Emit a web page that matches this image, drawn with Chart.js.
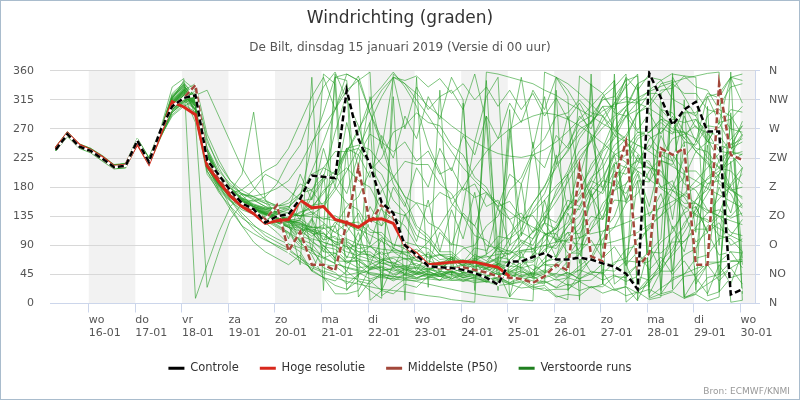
<!DOCTYPE html>
<html>
<head>
<meta charset="utf-8">
<script src="https://cdn.jsdelivr.net/npm/chart.js@4.4.1/dist/chart.umd.min.js"></script>
<style>
  body { margin: 0; background: #fff; }
  #wrap { position: relative; width: 800px; height: 400px; box-sizing: border-box; border: 1px solid #a9bccd; }
  #bron { position: absolute; right: 9px; bottom: 3px; font: 9px "DejaVu Sans", sans-serif; color: #999; }
</style>
</head>
<body>
<div id="wrap">
  <canvas id="wind" width="798" height="398"></canvas>
  <div id="bron">Bron: ECMWF/KNMI</div>
</div>
<script>
// tijdstappen (uren vanaf 15-01 00:00)
const uren = [7, 13, 19, 25, 31, 37, 43, 49, 55, 61, 67, 73, 79, 85, 91, 97, 103, 109, 115, 121,
  127, 133, 139, 145, 151, 157, 163, 169, 175, 181, 187, 193, 199, 205, 211, 217, 223, 229, 235, 241,
  247, 253, 259, 265, 271, 277, 283, 289, 295, 301, 307, 313, 319, 325, 331, 337, 343, 349, 355, 361];

// x-as: middernacht van elke dag
const tickUren = [24, 48, 72, 96, 120, 144, 168, 192, 216, 240, 264, 288, 312, 336, 360];
const dagNamen = ['wo', 'do', 'vr', 'za', 'zo', 'ma', 'di', 'wo', 'do', 'vr', 'za', 'zo', 'ma', 'di', 'wo'];
const datums = ['16-01', '17-01', '18-01', '19-01', '20-01', '21-01', '22-01', '23-01', '24-01', '25-01',
  '26-01', '27-01', '28-01', '29-01', '30-01'];
const grijzeDagen = [24, 72, 120, 168, 216, 264, 312, 360];
const windLabels = ['N', 'NO', 'O', 'ZO', 'Z', 'ZW', 'W', 'NW', 'N'];

const controle = [238, 262, 243, 236, 224, 211, 213, 252, 219, 268,
  305, 318, 322, 222, 199, 175, 155, 146, 125, 135,
  138, 162, 198, 196, 194, 330, 255, 215, 156, 140,
  90, 75, 58, 56, 55, 52, 47, 40, 29, 65,
  65, 72, 78, 68, 68, 71, 68, 62, 57, 46,
  22, 356, 318, 276, 300, 312, 266, 266, 14, 22];

const hogeResolutie = [240, 263, 245, 237, 226, 212, 214, 248, 217, 262,
  312, 304, 292, 213, 189, 166, 150, 139, 124, 128,
  130, 160, 148, 150, 130, 125, 118, 130, 131, 124,
  90, 77, 60, 62, 64, 65, 64, 60, 56, 42];

const middelste = [239, 262, 243, 236, 224, 211, 213, 250, 218, 265,
  305, 318, 338, 222, 195, 172, 153, 143, 130, 152,
  81, 111, 60, 60, 51, 125, 210, 125, 153, 134,
  88, 73, 58, 55, 53, 56, 52, 48, 42, 40,
  38, 32, 42, 60, 51, 210, 73, 65, 191, 250,
  55, 78, 240, 230, 240, 60, 60, 340, 230, 222];

const verstoordeRuns = [
  [239, 261, 243, 236, 224, 211, 212, 249, 219, 262, 305, 318, 300, 215, 185, 165, 150, 140, 132, 125,
   118, 100, 92, 70, 78, 62, 75, 88, 102, 92, 85, 66, 62, 52, 55, 48, 50, 42, 45, 38,
   40, 32, 35, 25, 40, 52, 68, 100, 118, 155, 170, 205, 225, 255, 262, 275, 250, 245, 238, 262],
  [236, 258, 240, 233, 220, 208, 210, 245, 214, 256, 295, 312, 330, 255, 210, 180, 162, 150, 142, 136,
   140, 158, 162, 190, 205, 240, 245, 238, 215, 198, 165, 155, 125, 115, 92, 88, 72, 74, 62, 64,
   55, 60, 48, 62, 72, 100, 115, 155, 175, 210, 220, 245, 230, 220, 185, 175, 145, 135, 110, 105],
  [242, 265, 245, 239, 228, 214, 216, 255, 225, 268, 318, 340, 290, 200, 175, 158, 145, 138, 130, 122,
   110, 92, 85, 55, 48, 30, 45, 52, 65, 55, 58, 48, 55, 45, 48, 40, 44, 35, 40, 30,
   35, 25, 28, 12, 6, 352, 338, 325, 295, 290, 265, 260, 235, 230, 205, 205, 185, 190, 175, 180],
  [240, 263, 244, 237, 225, 212, 213, 250, 220, 264, 300, 315, 325, 240, 200, 178, 160, 148, 138, 128,
   122, 130, 165, 195, 265, 325, 352, 295, 245, 185, 155, 115, 100, 75, 72, 58, 62, 52, 55, 46,
   50, 42, 48, 46, 65, 76, 115, 135, 175, 185, 210, 210, 205, 175, 165, 135, 130, 105, 100, 80],
  [237, 259, 241, 234, 222, 209, 210, 247, 216, 258, 290, 305, 315, 225, 190, 168, 155, 145, 138, 132,
   126, 118, 95, 85, 66, 65, 55, 58, 50, 55, 46, 50, 42, 46, 38, 48, 46, 64, 70, 100,
   115, 155, 180, 225, 245, 280, 290, 315, 320, 345, 352, 8, 15, 40, 45, 70, 75, 100, 105, 130],
  [243, 266, 247, 240, 229, 215, 217, 256, 226, 270, 335, 348, 8, 60, 110, 150, 170, 165, 155, 140,
   128, 105, 98, 80, 78, 64, 66, 55, 58, 50, 55, 46, 50, 42, 45, 36, 40, 33, 37, 30,
   33, 22, 24, 10, 14, 12, 26, 26, 42, 40, 60, 65, 95, 110, 145, 160, 195, 210, 245, 255],
  [238, 262, 243, 236, 223, 211, 212, 251, 221, 263, 312, 328, 312, 220, 190, 170, 158, 150, 145, 142,
   148, 170, 176, 195, 195, 210, 190, 180, 145, 130, 95, 90, 70, 75, 68, 85, 90, 120, 135, 175,
   195, 235, 255, 290, 295, 315, 295, 290, 260, 250, 220, 210, 180, 175, 155, 155, 140, 145, 132, 140],
  [241, 263, 245, 238, 226, 213, 215, 253, 223, 266, 320, 335, 305, 205, 178, 160, 148, 138, 128, 118,
   108, 88, 82, 60, 58, 44, 48, 38, 44, 35, 44, 38, 48, 44, 54, 48, 58, 54, 66, 64,
   80, 80, 105, 115, 150, 170, 215, 240, 285, 305, 340, 350, 15, 20, 42, 45, 64, 64, 80, 78],
  [239, 262, 244, 237, 225, 212, 214, 250, 219, 263, 306, 322, 280, 25, 80, 130, 155, 160, 150, 140,
   128, 125, 112, 108, 95, 95, 85, 88, 76, 80, 68, 72, 60, 64, 52, 58, 48, 54, 44, 50,
   42, 48, 40, 46, 42, 58, 72, 110, 135, 185, 215, 255, 265, 285, 280, 285, 265, 260, 235, 230],
  [240, 264, 245, 238, 226, 213, 214, 248, 218, 260, 298, 312, 320, 235, 195, 172, 162, 158, 165, 185,
   220, 245, 295, 335, 358, 315, 275, 215, 180, 135, 120, 90, 85, 68, 70, 58, 64, 54, 60, 50,
   56, 46, 52, 42, 48, 38, 50, 46, 64, 70, 100, 115, 155, 180, 225, 250, 290, 305, 335, 340],
  [237, 260, 242, 235, 223, 210, 211, 246, 217, 259, 296, 310, 318, 230, 195, 173, 160, 150, 143, 138,
   130, 128, 115, 110, 92, 88, 68, 65, 52, 53, 44, 46, 40, 42, 36, 38, 32, 34, 28, 30,
   24, 26, 20, 22, 22, 35, 36, 52, 50, 66, 64, 80, 78, 95, 96, 115, 115, 135, 135, 155],
  [242, 265, 246, 239, 227, 214, 216, 254, 224, 267, 325, 342, 318, 210, 182, 164, 152, 145, 140, 136,
   130, 142, 146, 175, 190, 235, 265, 315, 335, 358, 335, 305, 245, 205, 155, 135, 105, 98, 80, 82,
   70, 100, 125, 175, 205, 255, 280, 320, 335, 355, 20, 30, 65, 85, 125, 145, 185, 200, 230, 235],
  [238, 261, 242, 236, 224, 211, 213, 252, 221, 264, 310, 326, 298, 218, 188, 168, 156, 148, 140, 134,
   128, 115, 110, 88, 84, 66, 66, 52, 56, 46, 52, 44, 50, 42, 50, 42, 48, 42, 48, 40,
   48, 46, 64, 70, 100, 115, 155, 175, 215, 230, 260, 265, 285, 280, 295, 295, 320, 325, 350, 355],
  [240, 262, 243, 237, 225, 212, 213, 249, 219, 263, 304, 318, 312, 228, 196, 174, 200, 296, 160, 137,
   138, 136, 152, 155, 180, 155, 145, 115, 105, 80, 76, 58, 58, 46, 50, 40, 46, 36, 42, 32,
   38, 28, 34, 24, 30, 20, 26, 16, 22, 12, 18, 6, 10, 355, 352, 335, 330, 300, 290, 260],
  [241, 264, 245, 238, 226, 213, 215, 251, 222, 265, 315, 330, 320, 232, 198, 175, 155, 140, 125, 110,
   92, 80, 50, 40, 15, 15, 20, 55, 65, 85, 78, 84, 72, 76, 64, 68, 56, 62, 52, 58,
   56, 74, 80, 110, 125, 165, 190, 235, 255, 290, 300, 325, 325, 340, 325, 325, 300, 295, 270, 265],
  [236, 259, 241, 234, 221, 209, 210, 247, 217, 260, 300, 316, 322, 330, 290, 250, 210, 180, 160, 150,
   145, 135, 142, 130, 136, 124, 126, 110, 110, 90, 90, 72, 76, 64, 68, 60, 68, 60, 72, 68,
   82, 84, 106, 116, 144, 160, 195, 210, 245, 260, 295, 310, 340, 345, 10, 15, 40, 45, 65, 65],
  [239, 263, 244, 237, 224, 211, 213, 250, 220, 262, 308, 324, 315, 222, 190, 168, 154, 144, 136, 130,
   120, 122, 108, 108, 92, 92, 76, 76, 62, 64, 52, 56, 44, 48, 38, 44, 40, 56, 60, 90,
   105, 145, 170, 215, 235, 270, 280, 305, 305, 320, 312, 320, 300, 295, 265, 255, 225, 210, 175, 165],
  [240, 262, 245, 238, 225, 212, 214, 251, 221, 264, 310, 330, 300, 210, 184, 166, 152, 142, 134, 126,
   125, 165, 245, 295, 350, 355, 345, 295, 255, 195, 165, 120, 105, 80, 80, 64, 66, 54, 60, 48,
   54, 44, 50, 40, 48, 38, 46, 36, 44, 34, 42, 36, 50, 50, 75, 85, 120, 140, 185, 210],
  [238, 261, 243, 236, 224, 211, 212, 248, 218, 261, 302, 320, 310, 225, 193, 171, 158, 148, 140, 133,
   132, 116, 114, 94, 90, 72, 70, 54, 56, 44, 49, 40, 45, 36, 43, 34, 42, 33, 41, 32,
   44, 44, 64, 74, 104, 124, 164, 190, 235, 255, 295, 305, 330, 333, 352, 350, 12, 18, 40, 46],
  [241, 264, 246, 239, 227, 214, 215, 253, 223, 266, 318, 336, 316, 226, 194, 172, 158, 150, 146, 150,
   155, 170, 200, 210, 235, 235, 240, 215, 200, 160, 140, 105, 96, 76, 76, 62, 66, 56, 62, 52,
   64, 64, 84, 90, 120, 135, 175, 195, 230, 240, 265, 265, 280, 265, 265, 240, 235, 210, 205, 185],
  [239, 262, 244, 237, 225, 212, 213, 250, 220, 263, 306, 322, 308, 220, 188, 167, 154, 146, 140, 136,
   128, 132, 118, 118, 100, 98, 80, 80, 66, 70, 58, 62, 52, 58, 48, 54, 44, 50, 40, 46,
   36, 42, 32, 38, 28, 34, 24, 30, 20, 26, 16, 22, 12, 18, 8, 14, 4, 10, 358, 5],
  [237, 260, 242, 235, 223, 210, 212, 249, 218, 261, 300, 314, 322, 236, 200, 177, 163, 153, 146, 140,
   135, 95, 75, 40, 35, 50, 95, 125, 175, 195, 220, 215, 215, 185, 170, 135, 120, 90, 85, 65,
   66, 52, 60, 55, 75, 85, 125, 145, 190, 215, 255, 265, 285, 270, 265, 235, 220, 185, 170, 135],
  [242, 265, 246, 239, 227, 214, 216, 254, 224, 267, 322, 338, 310, 212, 182, 163, 150, 140, 132, 125,
   118, 118, 104, 116, 120, 150, 165, 205, 225, 265, 275, 295, 280, 275, 245, 230, 195, 180, 145, 130,
   95, 85, 60, 60, 45, 52, 45, 62, 60, 84, 90, 120, 135, 175, 195, 235, 250, 280, 285, 305],
  [238, 262, 243, 236, 224, 211, 213, 251, 221, 264, 309, 327, 304, 218, 186, 166, 153, 144, 137, 131,
   126, 128, 112, 122, 110, 124, 112, 130, 120, 142, 136, 156, 150, 172, 162, 180, 164, 172, 150, 158,
   132, 136, 108, 108, 78, 78, 48, 48, 22, 26, 4, 350, 346, 316, 306, 272, 264, 236, 232, 210],
  [240, 263, 245, 237, 226, 212, 214, 252, 222, 265, 312, 330, 318, 225, 192, 170, 157, 147, 139, 132,
   125, 60, 350, 20, 355, 90, 60, 45, 40, 38, 36, 35, 40, 50, 45, 40, 38, 36, 60, 300,
   40, 35, 30, 330, 20, 45, 70, 60, 300, 340, 20, 40, 300, 280, 250, 30, 60, 200, 240, 250],
  [239, 261, 243, 236, 224, 211, 212, 249, 219, 262, 304, 320, 312, 224, 192, 171, 158, 149, 141, 135,
   129, 124, 118, 355, 340, 20, 45, 60, 68, 72, 70, 66, 62, 58, 55, 52, 50, 48, 46, 44,
   42, 40, 38, 350, 330, 300, 260, 220, 30, 45, 60, 80, 100, 350, 320, 290, 255, 220, 180, 150],
  [241, 264, 244, 238, 226, 213, 215, 252, 222, 266, 316, 333, 306, 216, 186, 166, 154, 146, 140, 134,
   128, 122, 118, 116, 350, 345, 120, 90, 70, 60, 52, 48, 45, 42, 40, 150, 250, 320, 350, 10,
   30, 50, 70, 95, 120, 150, 180, 220, 260, 300, 340, 15, 50, 80, 110, 140, 170, 200, 230, 260],
  [238, 261, 244, 236, 223, 210, 213, 250, 221, 262, 302, 322, 315, 228, 200, 182, 170, 162, 155, 150,
   160, 185, 175, 210, 200, 240, 230, 262, 250, 235, 250, 220, 236, 200, 210, 175, 185, 150, 160, 130,
   140, 110, 125, 95, 110, 80, 98, 70, 88, 60, 80, 52, 72, 45, 66, 40, 60, 35, 55, 30],
  [241, 263, 246, 238, 227, 213, 214, 253, 224, 266, 316, 345, 330, 250, 215, 190, 175, 165, 158, 152,
   150, 165, 205, 250, 300, 355, 345, 5, 20, 15, 30, 25, 42, 36, 55, 48, 70, 62, 88, 80,
   110, 100, 135, 125, 160, 150, 190, 180, 218, 210, 245, 238, 272, 262, 300, 290, 325, 318, 350, 345],
  [237, 259, 242, 235, 222, 209, 211, 247, 216, 258, 292, 308, 296, 210, 180, 160, 140, 122, 105, 95,
   85, 70, 52, 40, 28, 22, 35, 30, 48, 40, 55, 46, 62, 52, 68, 58, 76, 66, 85, 75,
   98, 90, 125, 115, 150, 145, 180, 170, 205, 200, 225, 220, 180, 190, 140, 150, 110, 125, 90, 100],
  [240, 263, 245, 237, 226, 212, 214, 251, 222, 264, 308, 325, 305, 215, 175, 145, 120, 108, 98, 90,
   82, 70, 58, 50, 45, 40, 38, 35, 42, 38, 45, 40, 46, 42, 50, 44, 55, 48, 62, 56,
   72, 66, 90, 85, 110, 108, 135, 130, 160, 158, 190, 188, 220, 215, 250, 245, 275, 272, 300, 296],
  [239, 262, 243, 236, 224, 211, 213, 250, 220, 263, 310, 328, 318, 228, 196, 178, 168, 166, 170, 178,
   190, 215, 250, 275, 300, 330, 345, 358, 12, 25, 38, 46, 52, 58, 62, 65, 70, 72, 76, 78,
   82, 85, 90, 95, 98, 102, 108, 112, 118, 125, 132, 140, 148, 158, 168, 180, 192, 205, 218, 232],
  [242, 264, 247, 240, 228, 214, 216, 255, 225, 268, 322, 340, 320, 225, 190, 160, 135, 115, 100, 88,
   78, 65, 55, 48, 40, 34, 30, 26, 22, 20, 18, 15, 12, 10, 6, 4, 2, 358, 355, 350,
   345, 340, 330, 322, 310, 300, 290, 278, 268, 255, 245, 235, 222, 212, 200, 190, 178, 168, 158, 148],
  [238, 260, 242, 235, 223, 210, 212, 248, 218, 260, 298, 314, 300, 218, 188, 170, 160, 176, 200, 190,
   175, 160, 140, 125, 110, 100, 92, 88, 84, 82, 80, 78, 95, 120, 150, 180, 210, 235, 255, 270,
   282, 290, 295, 292, 285, 275, 262, 248, 232, 218, 205, 192, 178, 165, 150, 138, 126, 116, 105, 96],
  [240, 262, 245, 237, 225, 212, 214, 251, 221, 264, 306, 330, 340, 262, 222, 190, 168, 150, 138, 126,
   118, 112, 100, 95, 88, 80, 74, 68, 62, 58, 56, 54, 52, 50, 48, 46, 44, 42, 52, 68,
   88, 112, 140, 168, 198, 226, 250, 272, 290, 305, 318, 328, 336, 342, 348, 352, 356, 358, 2, 5],
  [241, 264, 245, 239, 227, 213, 215, 252, 223, 266, 314, 332, 310, 220, 188, 168, 152, 140, 130, 120,
   110, 98, 85, 72, 62, 55, 50, 46, 44, 42, 40, 38, 38, 36, 36, 35, 35, 34, 40, 48,
   60, 76, 96, 120, 148, 178, 208, 238, 266, 290, 312, 330, 345, 356, 8, 18, 30, 42, 55, 66],
  [237, 260, 242, 234, 222, 209, 211, 246, 216, 259, 296, 312, 325, 240, 205, 185, 170, 160, 150, 145,
   140, 135, 138, 150, 175, 205, 240, 280, 320, 350, 340, 315, 290, 262, 235, 210, 190, 172, 156, 142,
   128, 118, 108, 100, 95, 92, 90, 92, 96, 102, 110, 122, 136, 152, 170, 190, 210, 232, 254, 275],
  [239, 262, 244, 237, 225, 212, 213, 250, 220, 262, 306, 322, 300, 205, 172, 150, 132, 120, 110, 100,
   92, 86, 78, 70, 62, 56, 52, 48, 45, 42, 38, 34, 30, 26, 22, 18, 15, 12, 10, 8,
   6, 4, 358, 350, 340, 325, 308, 290, 270, 250, 232, 215, 198, 182, 168, 155, 144, 135, 128, 122],
  [240, 263, 244, 238, 226, 212, 214, 252, 222, 265, 312, 330, 322, 232, 198, 176, 162, 152, 146, 142,
   138, 136, 134, 132, 128, 122, 115, 106, 96, 86, 76, 68, 62, 58, 56, 56, 58, 62, 68, 78,
   92, 110, 132, 158, 188, 220, 252, 282, 310, 335, 355, 10, 24, 36, 46, 54, 60, 64, 66, 68],
  [238, 261, 243, 236, 224, 211, 212, 249, 219, 262, 304, 319, 309, 221, 190, 169, 156, 147, 140, 134,
   128, 120, 112, 104, 96, 88, 80, 74, 68, 62, 58, 56, 54, 54, 56, 60, 66, 76, 90, 108,
   130, 155, 182, 210, 238, 262, 282, 298, 308, 312, 310, 302, 290, 274, 256, 236, 216, 196, 178, 162],
  [240, 262, 244, 237, 225, 212, 214, 251, 221, 264, 310, 326, 310, 222, 192, 170, 176, 190, 205, 215,
   240, 280, 320, 350, 300, 340, 10, 35, 20, 60, 45, 80, 60, 110, 90, 140, 120, 170, 150, 200,
   185, 230, 210, 260, 240, 290, 270, 320, 300, 350, 330, 355, 20, 345, 10, 40, 15, 60, 30, 80],
  [239, 261, 243, 236, 224, 211, 213, 250, 219, 262, 304, 320, 305, 215, 185, 150, 120, 95, 80, 70,
   60, 75, 50, 90, 70, 120, 95, 150, 120, 180, 150, 210, 180, 240, 205, 260, 230, 290, 255, 310,
   280, 330, 300, 350, 320, 5, 340, 30, 355, 60, 20, 90, 50, 120, 80, 150, 110, 180, 140, 210],
  [241, 264, 245, 238, 226, 213, 215, 252, 222, 265, 314, 332, 316, 226, 194, 172, 160, 152, 148, 146,
   150, 130, 175, 150, 200, 170, 230, 195, 260, 225, 290, 255, 320, 285, 350, 315, 20, 345, 50, 10,
   80, 40, 110, 70, 140, 100, 170, 130, 200, 160, 230, 190, 260, 220, 290, 250, 320, 280, 350, 310],
  [238, 262, 243, 236, 223, 211, 212, 251, 221, 263, 308, 324, 300, 212, 184, 166, 152, 146, 142, 140,
   145, 200, 160, 240, 180, 280, 210, 320, 240, 350, 270, 335, 300, 320, 330, 300, 355, 280, 20, 260,
   350, 240, 320, 215, 290, 195, 260, 175, 230, 155, 200, 135, 170, 115, 140, 95, 110, 75, 80, 55],
  [240, 263, 245, 237, 225, 212, 213, 250, 220, 264, 306, 322, 312, 224, 193, 171, 157, 147, 138, 130,
   118, 95, 130, 80, 120, 70, 110, 60, 100, 55, 90, 50, 80, 48, 72, 45, 65, 42, 58, 40,
   52, 38, 46, 36, 40, 34, 355, 30, 345, 28, 335, 25, 325, 22, 315, 20, 305, 18, 295, 15],
  [237, 260, 242, 235, 223, 210, 212, 249, 218, 261, 300, 316, 320, 236, 200, 178, 164, 154, 148, 142,
   100, 160, 80, 200, 60, 240, 40, 280, 20, 320, 5, 350, 25, 330, 45, 310, 65, 290, 85, 270,
   105, 250, 125, 230, 145, 210, 165, 190, 185, 170, 205, 150, 225, 130, 245, 110, 265, 90, 285, 70],
  [242, 265, 246, 239, 227, 214, 216, 254, 224, 267, 320, 338, 312, 214, 184, 165, 151, 141, 133, 126,
   120, 104, 132, 98, 126, 110, 140, 92, 150, 84, 138, 96, 160, 80, 145, 100, 172, 76, 150, 90,
   185, 70, 160, 95, 200, 62, 175, 85, 215, 58, 190, 75, 230, 50, 205, 68, 245, 44, 220, 60],
  [239, 262, 244, 237, 224, 211, 213, 251, 221, 263, 310, 328, 306, 220, 189, 169, 155, 146, 139, 132,
   126, 112, 118, 98, 104, 84, 92, 70, 80, 62, 70, 58, 66, 60, 72, 64, 86, 82, 104, 100,
   128, 140, 160, 182, 200, 236, 252, 290, 310, 348, 6, 40, 58, 100, 118, 160, 176, 222, 238, 282],
  [241, 263, 245, 238, 226, 213, 214, 252, 223, 266, 318, 335, 322, 230, 196, 174, 160, 150, 144, 138,
   132, 140, 150, 170, 200, 235, 270, 300, 330, 350, 345, 352, 335, 348, 325, 340, 315, 335, 305, 330,
   300, 325, 290, 318, 285, 310, 278, 305, 270, 300, 268, 295, 262, 290, 255, 285, 250, 280, 245, 275],
  [238, 261, 243, 236, 224, 211, 212, 249, 219, 262, 303, 319, 310, 222, 190, 168, 154, 145, 138, 132,
   128, 124, 110, 90, 70, 50, 35, 20, 8, 355, 340, 325, 305, 290, 275, 262, 250, 240, 232, 228,
   226, 230, 238, 250, 266, 285, 305, 325, 345, 2, 18, 35, 55, 75, 96, 118, 140, 162, 182, 200]
];

const punten = (waarden) => waarden.map((v, i) => ({ x: uren[i], y: v }));

const achtergrondDagen = {
  id: 'achtergrondDagen',
  beforeDraw(chart) {
    const { ctx, chartArea: a, scales: { x } } = chart;
    ctx.save();
    ctx.beginPath();
    ctx.rect(a.left, a.top, a.right - a.left, a.bottom - a.top);
    ctx.clip();
    ctx.fillStyle = '#f2f2f2';
    grijzeDagen.forEach(h => {
      const l = x.getPixelForValue(h);
      const r = x.getPixelForValue(h + 24);
      ctx.fillRect(l, a.top, r - l, a.bottom - a.top);
    });
    ctx.restore();
  }
};

const buildDatasets = () => {
  let sets = [
    { label: 'Controle', data: punten(controle), borderColor: '#000', borderWidth: 2.5, borderDash: [6, 3] },
    { label: '', verborgen: true, data: punten(controle), borderColor: '#fff', borderWidth: 2.5 },
    { label: 'Hoge resolutie', data: punten(hogeResolutie), borderColor: '#d8281c', borderWidth: 3 },
    { label: 'Middelste (P50)', data: punten(middelste), borderColor: '#a2473a', borderWidth: 2.5, borderDash: [6, 3] },
    { label: '', verborgen: true, data: punten(middelste), borderColor: '#fff', borderWidth: 2.5 }
  ];
  verstoordeRuns.forEach((run, k) => {
    sets.push({ label: 'Verstoorde runs', verborgen: k > 0, data: punten(run),
      borderColor: 'rgba(40,158,40,0.6)', borderWidth: 1 });
  });
  return sets;
};

Chart.defaults.font.family = '"DejaVu Sans", sans-serif';
Chart.defaults.color = '#555';

new Chart(document.getElementById('wind'), {
  type: 'line',
  data: { datasets: buildDatasets() },
  options: {
    responsive: false,
    animation: false,
    events: [],
    elements: { point: { radius: 0 }, line: { tension: 0 } },
    layout: { padding: { top: 0, bottom: 15, left: 0, right: 0 } },
    plugins: {
      title: {
        display: true, text: 'Windrichting (graden)', color: '#333',
        font: { size: 17, weight: 'normal' }, padding: { top: 7, bottom: 0 }
      },
      subtitle: {
        display: true, text: 'De Bilt, dinsdag 15 januari 2019 (Versie di 00 uur)', color: '#555',
        font: { size: 12 }, padding: { top: 12, bottom: 16 }
      },
      legend: {
        position: 'bottom',
        labels: {
          color: '#333', font: { size: 11.5 }, padding: 21,
          usePointStyle: true, pointStyle: 'line', pointStyleWidth: 16,
          filter: (item, data) => !data.datasets[item.datasetIndex].verborgen,
          generateLabels: (chart) => {
            let items = Chart.defaults.plugins.legend.labels.generateLabels(chart);
            items.forEach(it => {
              if (it.text === 'Verstoorde runs') { it.strokeStyle = '#1f7f1f'; it.lineWidth = 3; }
              else { it.lineWidth = 3; }
            });
            return items;
          }
        }
      },
      tooltip: { enabled: false }
    },
    scales: {
      x: {
        type: 'linear', min: 4, max: 367.5,
        afterBuildTicks: (axis) => { axis.ticks = tickUren.map(v => ({ value: v })); },
        afterFit: (axis) => { axis.height = 38; },
        ticks: {
          autoSkip: false, maxRotation: 0, align: 'start', padding: 1,
          font: { size: 11 }, color: '#555',
          callback: (v, i) => [dagNamen[i], datums[i]]
        },
        grid: { drawOnChartArea: false, drawTicks: true, tickLength: 9, color: '#ccd6eb' },
        border: { display: true, color: '#ccd6eb' }
      },
      y: {
        position: 'left', min: 0, max: 360,
        afterFit: (axis) => { axis.width = 49; },
        ticks: { stepSize: 45, padding: 16, font: { size: 11 }, color: '#555' },
        grid: { color: '#d8d8d8', drawTicks: false },
        border: { display: false }
      },
      y2: {
        position: 'right', min: 0, max: 360,
        afterFit: (axis) => { axis.width = 44; },
        afterBuildTicks: (axis) => { axis.ticks = [0, 45, 90, 135, 180, 225, 270, 315, 360].map(v => ({ value: v })); },
        ticks: { padding: 9, font: { size: 11 }, color: '#555', callback: (v, i) => windLabels[i] },
        grid: { drawOnChartArea: false, drawTicks: true, tickLength: 5, color: '#ccd6eb' },
        border: { display: true, color: '#ccd6eb' }
      }
    }
  },
  plugins: [achtergrondDagen]
});
</script>
</body>
</html>
